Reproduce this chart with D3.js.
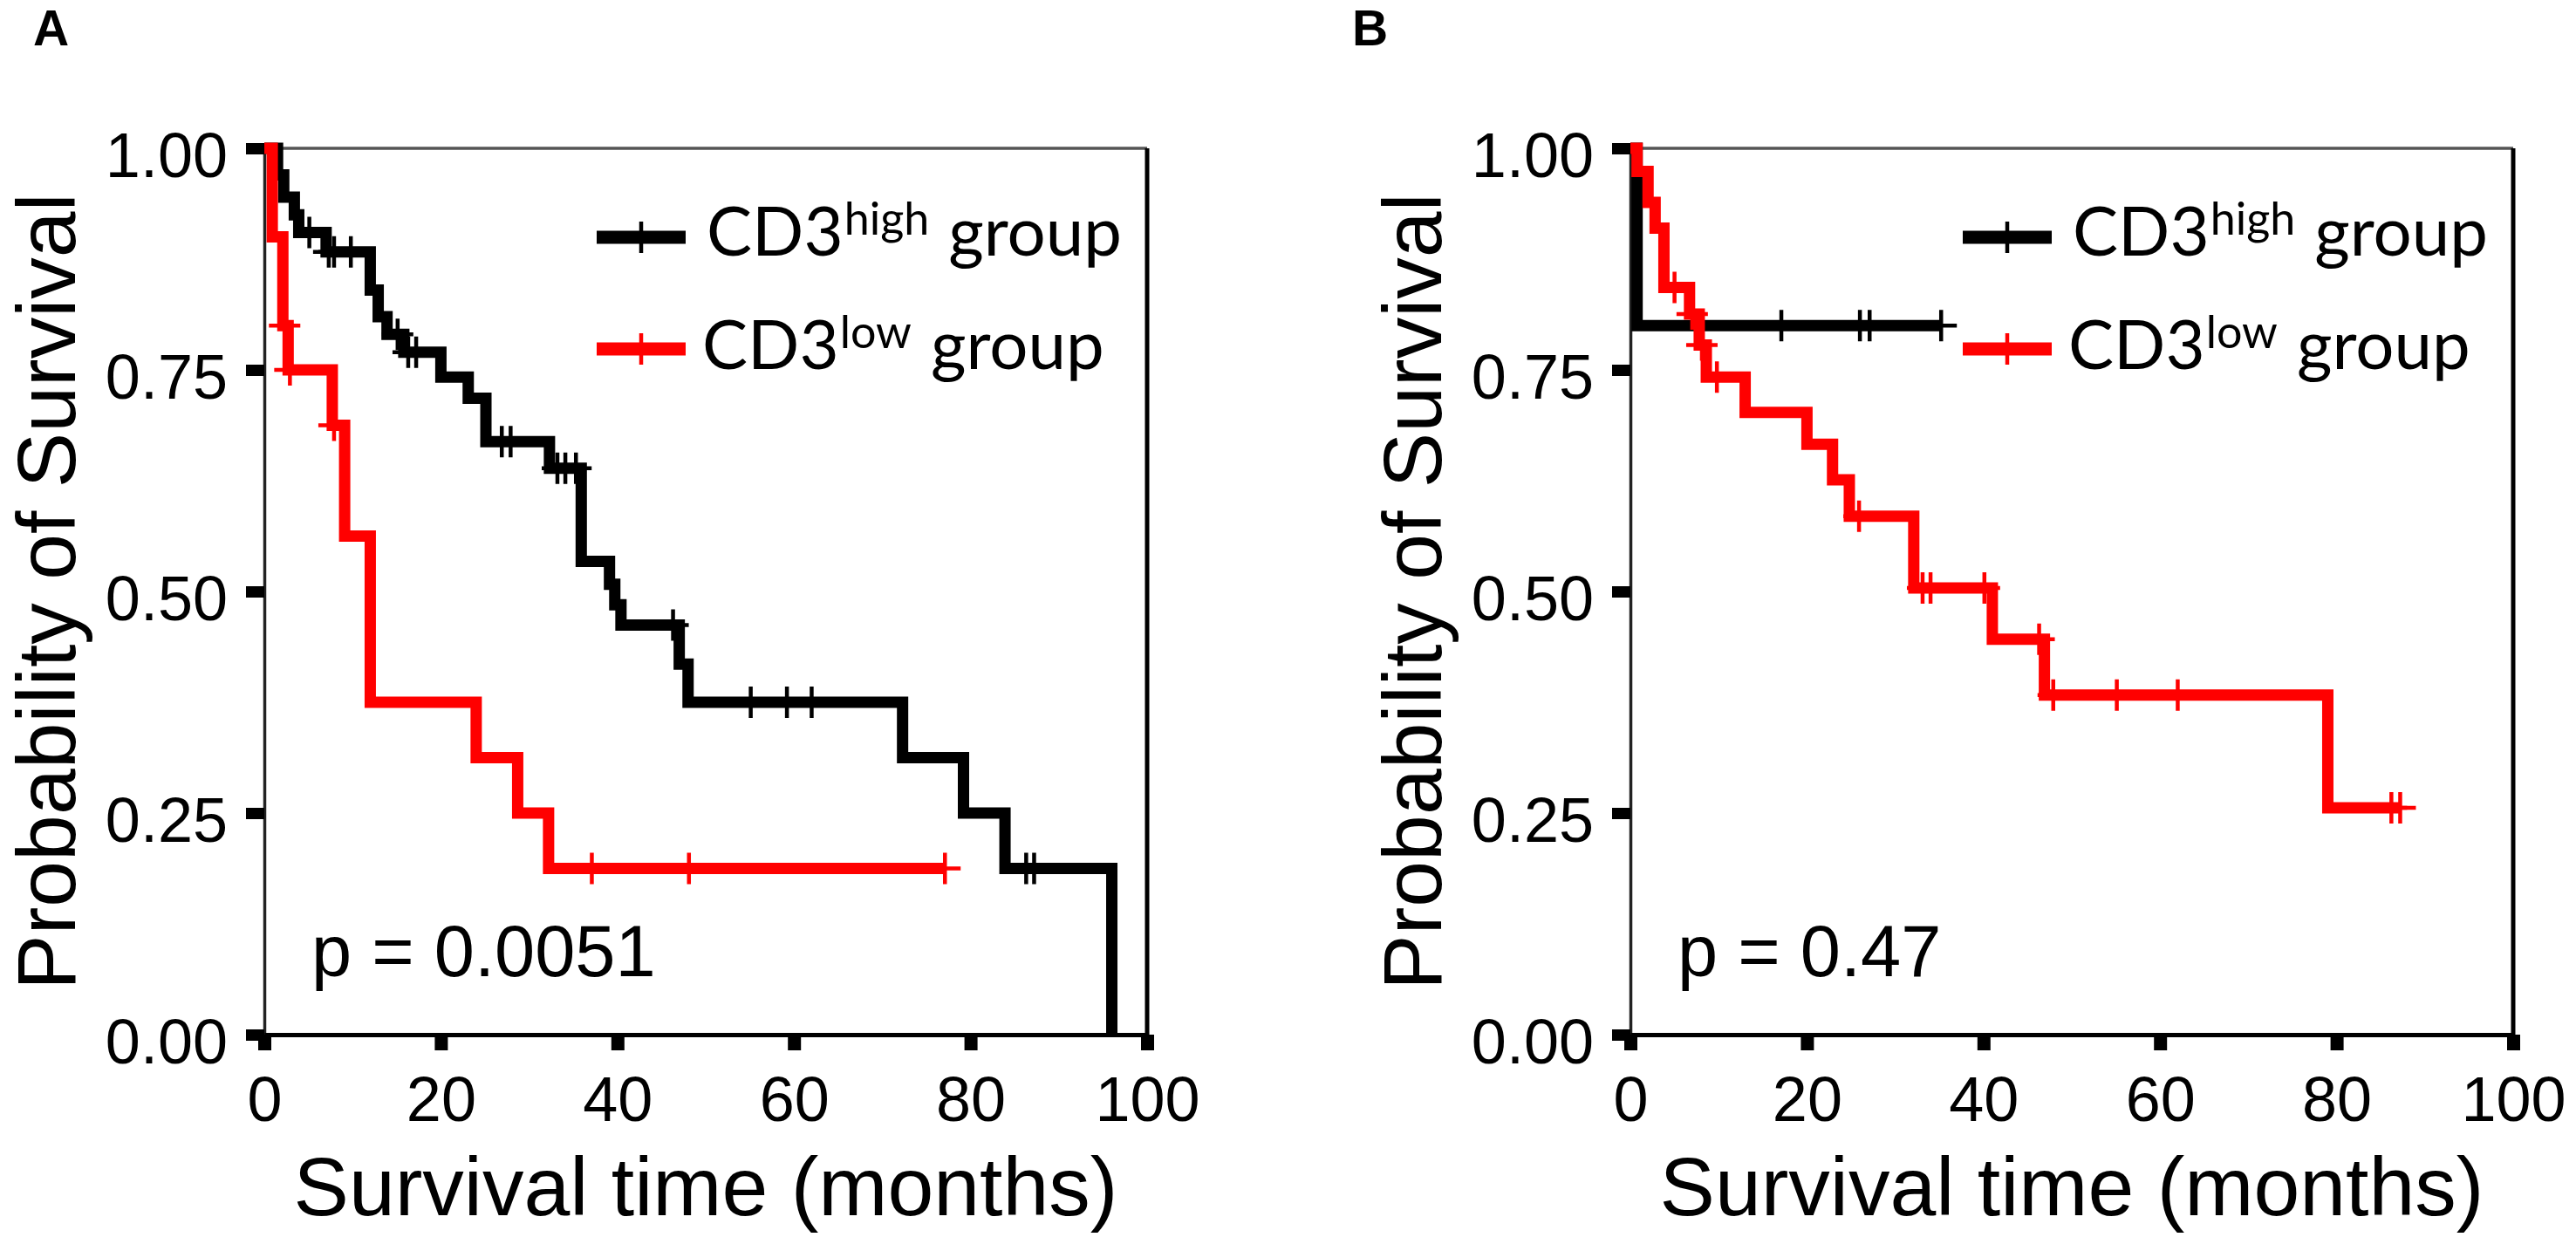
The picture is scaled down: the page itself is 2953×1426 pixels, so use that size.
<!DOCTYPE html>
<html>
<head>
<meta charset="utf-8">
<script src="https://cdn.jsdelivr.net/npm/d3@7"></script>
<style>
  body { margin: 0; background: #fff; }
</style>
</head>
<body>
<script>
// Axis ticks
const xTicks = [0, 20, 40, 60, 80, 100];
const yTicks = [0, 0.25, 0.5, 0.75, 1];

// Panel texts
const panelLabels = ["A", "B"];
const pValues = ["p = 0.0051", "p = 0.47"];
const groupNames = ["high", "low"];
const groupColors = ["#000000", "#ff0000"];

// Panel A, CD3 high : step times (months), survival after step, censored times
const highA_time = [0, 1.5, 2.2, 3.4, 3.9, 7.0, 12.0, 12.9, 13.9, 15.8, 20.0, 23.1, 25.1, 32.3,
                    35.9, 39.1, 39.7, 40.4, 47.0, 48.0, 72.3, 79.2, 83.9, 96.0];
const highA_surv = [1, 0.97, 0.945, 0.925, 0.905, 0.883, 0.84, 0.81, 0.79, 0.77, 0.742, 0.718, 0.669, 0.639,
                    0.534, 0.508, 0.485, 0.462, 0.418, 0.375, 0.3125, 0.25, 0.1875, 0];
const highA_censor = [5.1, 7.3, 7.9, 9.8, 15.1, 16.3, 17.2, 26.9, 27.9, 33.2, 34.1, 35.3,
                      46.3, 55.1, 59.2, 62.0, 86.3, 87.2];

// Panel A, CD3 low
const lowA_time = [0, 0.9, 2.1, 2.7, 7.7, 9.1, 12.0, 24.0, 28.7, 32.2, 77.1];
const lowA_surv = [1, 0.9, 0.8, 0.75, 0.6875, 0.5625, 0.375, 0.3125, 0.25, 0.1875, 0.1875];
const lowA_censor = [2.3, 2.9, 7.9, 37.1, 48.1, 77.1];

// Panel B, CD3 high
const highB_time = [0, 0.76, 35.2];
const highB_surv = [1, 0.8, 0.8];
const highB_censor = [17.1, 26.0, 27.1, 35.2];

// Panel B, CD3 low
const lowB_time = [0, 0.76, 2.0, 2.8, 3.8, 6.7, 7.8, 8.6, 13.0, 20.0, 22.9, 24.8, 32.1,
                   41.0, 46.9, 79.0, 87.2];
const lowB_surv = [1, 0.974, 0.939, 0.91, 0.843, 0.813, 0.778, 0.742, 0.702, 0.666, 0.626, 0.585, 0.504,
                   0.446, 0.383, 0.256, 0.256];
const lowB_censor = [5.0, 7.0, 8.1, 9.8, 25.9, 33.1, 34.0, 40.1, 46.3, 47.9, 55.1, 62.0, 86.2, 87.2];

// Layout
const W = 2953, H = 1426;
const margin = {top: 170, left: 303};
const plotW = 1012, plotH = 1016, panelStep = 1566;
const arial = "'Liberation Sans', Arial, Helvetica, sans-serif";

// Survival level in effect at time t
function survAt(times, surv, t) {
    let s = surv[0];
    for (let i = 0; i < times.length; i++) if (times[i] <= t) s = surv[i];
    return s;
}

function drawPanel(svg, i, groups) {
    const left = margin.left + i * panelStep;
    const g = svg.append("g").attr("transform", `translate(${left},${margin.top})`);

    const x = d3.scaleLinear().domain([0, 100]).range([0, plotW]);
    const y = d3.scaleLinear().domain([0, 1]).range([plotH, 0]);

    // frame top and right
    g.append("line").attr("x1", 0).attr("x2", plotW).attr("y1", 0).attr("y2", 0)
        .attr("stroke", "#555").attr("stroke-width", 3.5);
    g.append("line").attr("x1", plotW).attr("x2", plotW).attr("y1", 0).attr("y2", plotH)
        .attr("stroke", "#000").attr("stroke-width", 5);

    // y axis
    g.append("g")
        .call(d3.axisLeft(y).tickValues(yTicks).tickFormat(d3.format(".2f"))
            .tickSize(21).tickSizeOuter(0).tickPadding(21))
        .call(a => {
            a.attr("font-size", 72).attr("font-family", arial);
            a.select(".domain").attr("stroke", "#222").attr("stroke-width", 3.5);
            a.selectAll(".tick line").attr("stroke", "#000").attr("stroke-width", 13);
            a.selectAll(".tick text").attr("fill", "#000").attr("dy", "0.45em");
        });

    // x axis
    g.append("g")
        .attr("transform", `translate(0,${plotH})`)
        .call(d3.axisBottom(x).tickValues(xTicks).tickFormat(d3.format("d"))
            .tickSize(18).tickSizeOuter(0).tickPadding(30))
        .call(a => {
            a.attr("font-size", 72).attr("font-family", arial);
            a.select(".domain").attr("stroke", "#000").attr("stroke-width", 5);
            a.selectAll(".tick line").attr("stroke", "#000").attr("stroke-width", 15);
            a.selectAll(".tick text").attr("fill", "#000");
        });

    // survival curves (high first, low on top)
    const line = d3.line()
        .x(d => x(d[0]))
        .y(d => y(d[1]))
        .curve(d3.curveStepAfter);

    groups.forEach((grp, k) => {
        const pts = d3.zip(grp.time, grp.surv);
        g.append("path")
            .attr("d", line(pts))
            .attr("fill", "none")
            .attr("stroke", groupColors[k])
            .attr("stroke-width", 13)
            .attr("stroke-linejoin", "miter");

        // censor marks "+"
        g.selectAll(null)
            .data(grp.censor)
            .join("path")
            .attr("d", t => {
                const cx = x(t), cy = y(survAt(grp.time, grp.surv, t));
                return `M${cx - 18},${cy}H${cx + 18}M${cx},${cy - 18}V${cy + 18}`;
            })
            .attr("fill", "none")
            .attr("stroke", groupColors[k])
            .attr("stroke-width", 4.5);
    });

    // legend
    groupNames.forEach((name, k) => {
        const ly = 102 + k * 128;
        g.append("line")
            .attr("x1", 381).attr("x2", 483).attr("y1", ly).attr("y2", ly)
            .attr("stroke", groupColors[k]).attr("stroke-width", 15);
        g.append("line")
            .attr("x1", 432).attr("x2", 432).attr("y1", ly - 18).attr("y2", ly + 18)
            .attr("stroke", groupColors[k]).attr("stroke-width", 4.5);

        const base = 123 + k * 130;
        const t = g.append("text")
            .attr("x", 507 - k * 5).attr("y", base)
            .attr("font-family", "Lato, 'Noto Sans', sans-serif")
            .attr("font-size", 78)
            .attr("fill", "#000");
        t.append("tspan").text("CD3");
        t.append("tspan").attr("dx", 1).attr("dy", -24).attr("font-size", 52).text(name);
        t.append("tspan").attr("dx", 22).attr("dy", 24).text("group");
    });

    // p value
    g.append("text")
        .attr("x", 54).attr("y", 949)
        .attr("font-family", arial).attr("font-size", 83)
        .text(pValues[i]);

    // axis titles
    g.append("text")
        .attr("x", plotW / 2).attr("y", 1223)
        .attr("text-anchor", "middle")
        .attr("font-family", arial).attr("font-size", 95)
        .text("Survival time (months)");

    g.append("text")
        .attr("transform", `translate(-217,${plotH / 2}) rotate(-90)`)
        .attr("text-anchor", "middle")
        .attr("font-family", arial).attr("font-size", 95)
        .text("Probability of Survival");

    // panel letter
    svg.append("text")
        .attr("x", i === 0 ? 38 : 1550).attr("y", 52)
        .attr("font-family", arial).attr("font-weight", "bold").attr("font-size", 57)
        .text(panelLabels[i]);
}

function myfct() {
    const svg = d3.select("body")
        .append("svg")
        .attr("width", W)
        .attr("height", H)
        .style("display", "block");

    svg.append("rect").attr("width", W).attr("height", H).attr("fill", "#fff");

    drawPanel(svg, 0, [
        {time: highA_time, surv: highA_surv, censor: highA_censor},
        {time: lowA_time, surv: lowA_surv, censor: lowA_censor}
    ]);
    drawPanel(svg, 1, [
        {time: highB_time, surv: highB_surv, censor: highB_censor},
        {time: lowB_time, surv: lowB_surv, censor: lowB_censor}
    ]);
}

d3.select(window).on("load", myfct);
</script>
</body>
</html>
